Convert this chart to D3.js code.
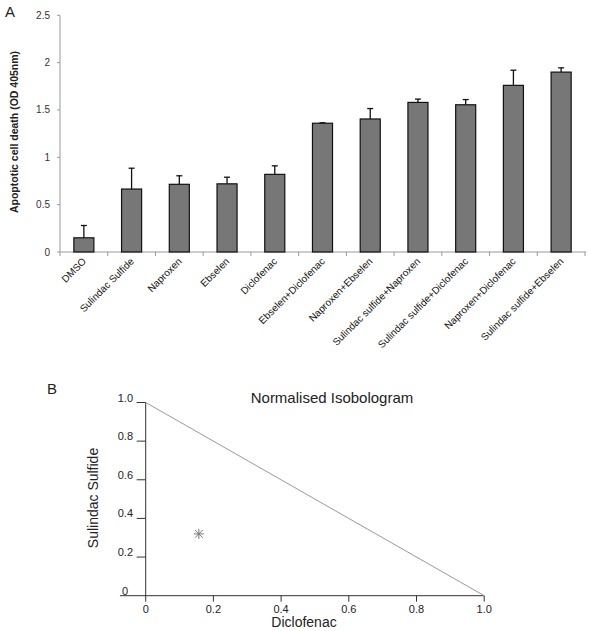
<!DOCTYPE html>
<html><head><meta charset="utf-8">
<script src="https://cdn.jsdelivr.net/npm/d3@7"></script>
<style>body{margin:0;background:#fff;} svg{display:block;font-family:"Liberation Sans",Arial,sans-serif;}</style>
</head><body>
<svg id="c" width="589" height="631"></svg>
<script>
// Panel A data
const categories = ["DMSO","Sulindac Sulfide","Naproxen","Ebselen","Diclofenac","Ebselen+Diclofenac","Naproxen+Ebselen","Sulindac sulfide+Naproxen","Sulindac sulfide+Diclofenac","Naproxen+Diclofenac","Sulindac sulfide+Ebselen"];
const values = [0.15,0.665,0.715,0.72,0.82,1.36,1.405,1.58,1.555,1.76,1.90];
const errors = [0.13,0.22,0.09,0.07,0.09,0.005,0.11,0.035,0.055,0.16,0.045];
const yTicksA = [0,0.5,1,1.5,2,2.5];
const yTickLabelsA = ["0","0.5","1","1.5","2","2.5"];
// Panel B data
const isoLine = [[0,1],[1,0]];
const isoPoints = [[0.157,0.32]];
const isoTicks = [0,0.2,0.4,0.6,0.8,1.0];
const isoXTickLabels = ["0","0.2","0.4","0.6","0.8","1.0"];
const isoYTickLabels = ["0","0.2","0.4","0.6","0.8","1.0"];

const svg = d3.select("#c");

// ---------- Panel A ----------
const x = d3.scaleBand().domain(categories).range([60,585]).paddingInner(0.58).paddingOuter(0.29);
const y = d3.scaleLinear().domain([0,2.5]).range([252,15.3]);
const gA = svg.append("g");

gA.append("text").attr("x",5).attr("y",17).attr("font-size",15).attr("fill","#222").text("A");

// axes lines
gA.append("line").attr("x1",60).attr("x2",60).attr("y1",y(2.5)).attr("y2",y(0)).attr("stroke","#999");
gA.append("line").attr("x1",60).attr("x2",586).attr("y1",y(0)).attr("y2",y(0)).attr("stroke","#999");
yTicksA.forEach((t,i)=>{
  gA.append("line").attr("x1",57).attr("x2",60).attr("y1",y(t)).attr("y2",y(t)).attr("stroke","#999");
  gA.append("text").attr("x",50).attr("y",y(t)).attr("dy","0.35em").attr("text-anchor","end")
    .attr("font-size",10).attr("fill","#333").text(yTickLabelsA[i]);
});
const step = x.step();
for (let i=0;i<=categories.length;i++){
  const bx = i<categories.length ? x(categories[i]) - step*0.29 : x(categories[i-1]) + x.bandwidth() + step*0.29;
  gA.append("line").attr("x1",bx).attr("x2",bx).attr("y1",y(0)).attr("y2",y(0)+4).attr("stroke","#999");
}
gA.append("text").attr("transform","translate(18,132) rotate(-90)").attr("text-anchor","middle")
  .attr("font-size",10.5).attr("font-weight","bold").attr("fill","#222").text("Apoptotic cell death (OD 405nm)");

// error bars
categories.forEach((c,i)=>{
  const cx = x(c)+x.bandwidth()/2;
  gA.append("line").attr("x1",cx).attr("x2",cx).attr("y1",y(values[i])).attr("y2",y(values[i]+errors[i])).attr("stroke","#111").attr("stroke-width",1.3);
  gA.append("line").attr("x1",cx-3).attr("x2",cx+3).attr("y1",y(values[i]+errors[i])).attr("y2",y(values[i]+errors[i])).attr("stroke","#111").attr("stroke-width",1.3);
});
// bars
gA.selectAll("rect.bar").data(categories).join("rect").attr("class","bar")
  .attr("x",d=>x(d)).attr("width",x.bandwidth())
  .attr("y",(d,i)=>y(values[i])).attr("height",(d,i)=>y(0)-y(values[i]))
  .attr("fill","#777").attr("stroke","#111").attr("stroke-width",1.2);
// labels
categories.forEach(c=>{
  const cx = x(c)+x.bandwidth()/2;
  gA.append("text").attr("transform",`translate(${cx+3},262) rotate(-45)`).attr("text-anchor","end")
    .attr("font-size",10).attr("fill","#111").text(c);
});

// ---------- Panel B ----------
const xb = d3.scaleLinear().domain([0,1]).range([145.7,484.2]);
const yb = d3.scaleLinear().domain([0,1]).range([595.7,402.5]);
const gB = svg.append("g");
gB.append("text").attr("x",47).attr("y",394).attr("font-size",15).attr("fill","#222").text("B");
gB.append("text").attr("x",332).attr("y",403).attr("text-anchor","middle").attr("font-size",15).attr("fill","#222").text("Normalised Isobologram");

gB.append("line").attr("x1",xb(0)).attr("x2",xb(0)).attr("y1",yb(1)).attr("y2",yb(0)).attr("stroke","#333");
gB.append("line").attr("x1",120).attr("x2",xb(1)).attr("y1",yb(0)).attr("y2",yb(0)).attr("stroke","#333");
isoTicks.forEach((t,i)=>{
  if (i>0) gB.append("line").attr("x1",xb(0)-9).attr("x2",xb(0)).attr("y1",yb(t)).attr("y2",yb(t)).attr("stroke","#333");
  gB.append("line").attr("x1",xb(t)).attr("x2",xb(t)).attr("y1",yb(0)).attr("y2",yb(0)+6).attr("stroke","#333");
  gB.append("text").attr("x",xb(t)).attr("y",yb(0)+17).attr("text-anchor","middle").attr("font-size",11).attr("fill","#222").text(isoXTickLabels[i]);
  gB.append("text").attr("x",i===0?128:133).attr("y",yb(t)-1).attr("text-anchor","end").attr("font-size",11).attr("fill","#222").text(isoYTickLabels[i]);
});
const line = d3.line().x(d=>xb(d[0])).y(d=>yb(d[1]));
gB.append("path").attr("d",line(isoLine)).attr("fill","none").attr("stroke","#999").attr("stroke-width",1);
isoPoints.forEach(p=>{
  gB.append("path").attr("d",d3.symbol(d3.symbolTimes,40)()).attr("transform",`translate(${xb(p[0])},${yb(p[1])})`).attr("fill","none").attr("stroke","#777").attr("stroke-width",1);
  gB.append("line").attr("x1",xb(p[0])-5).attr("x2",xb(p[0])+5).attr("y1",yb(p[1])).attr("y2",yb(p[1])).attr("stroke","#777");
  gB.append("line").attr("x1",xb(p[0])).attr("x2",xb(p[0])).attr("y1",yb(p[1])-5).attr("y2",yb(p[1])+5).attr("stroke","#777");
});
gB.append("text").attr("x",304).attr("y",627).attr("text-anchor","middle").attr("font-size",14).attr("fill","#222").text("Diclofenac");
gB.append("text").attr("transform","translate(98,498) rotate(-90)").attr("text-anchor","middle").attr("font-size",14).attr("fill","#222").text("Sulindac Sulfide");
</script>
</body></html>
